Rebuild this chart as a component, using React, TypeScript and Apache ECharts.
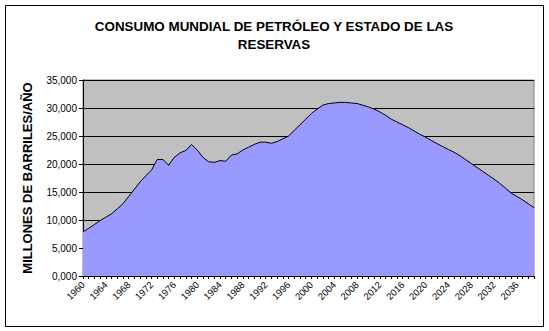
import React, { useEffect, useRef } from "react";
import * as echarts from "echarts";

const years: string[] = [];
for (let y = 1960; y <= 2039; y++) years.push(String(y));

const consumption: number[] = [
  7900, 8500, 9200, 9900, 10500, 11100, 12000, 12900, 14200, 15500,
  16800, 17900, 18900, 20800, 20800, 19800, 21200, 22000, 22400, 23500,
  22500, 21200, 20400, 20300, 20600, 20500, 21600, 21800, 22500, 23000,
  23500, 23900, 23900, 23700, 24000, 24500, 25000, 26000, 27000, 28000,
  29000, 29800, 30500, 30800, 30900, 31000, 31000, 30900, 30800, 30500,
  30200, 29800, 29300, 28700, 28000, 27500, 27000, 26500, 25900, 25300,
  24800, 24200, 23650, 23100, 22600, 22100, 21500, 20800, 20100, 19400,
  18700, 18000, 17300, 16550, 15700, 14800, 14200, 13600, 12900, 12200,
];

const titleText = "CONSUMO MUNDIAL DE PETRÓLEO Y ESTADO DE LAS\nRESERVAS";
const yAxisTitle = "MILLONES DE BARRILES/AÑO";

const FONT = "'Liberation Sans', Arial, sans-serif";

export default function App() {
  const ref = useRef<HTMLDivElement>(null);
  useEffect(() => {
    document.body.style.margin = "0";
    if (!ref.current) return;
    const chart = echarts.init(ref.current, undefined, { renderer: "svg" });
    chart.setOption({
      animation: false,
      backgroundColor: "#ffffff",
      title: {
        text: titleText,
        left: 269,
        textAlign: "center",
        top: 12,
        textStyle: {
          fontFamily: FONT,
          fontSize: 13.4,
          fontWeight: "bold",
          color: "#000",
          lineHeight: 18,
        },
      },
      graphic: [
        {
          type: "rect",
          shape: { x: 5.5, y: 5.5, width: 538, height: 321 },
          style: { fill: "none", stroke: "#000", lineWidth: 1 },
          z: 100,
        },
      ],
      grid: {
        left: 83,
        right: 15,
        top: 80,
        bottom: 55,
        show: true,
        backgroundColor: "#C0C0C0",
        borderColor: "#808080",
        borderWidth: 1,
      },
      xAxis: {
        type: "category",
        data: years,
        boundaryGap: false,
        axisLine: { show: true, lineStyle: { color: "#000", width: 1 } },
        axisTick: {
          show: true,
          interval: 0,
          length: 3,
          lineStyle: { color: "#000" },
        },
        axisLabel: {
          interval: 3,
          rotate: 45,
          margin: 7,
          fontFamily: FONT,
          fontSize: 9.5,
          color: "#000",
        },
        splitLine: { show: false },
      },
      yAxis: {
        type: "value",
        min: 0,
        max: 35000,
        interval: 5000,
        name: yAxisTitle,
        nameLocation: "middle",
        nameGap: 49,
        nameTextStyle: {
          fontFamily: FONT,
          fontSize: 13,
          fontWeight: "bold",
          color: "#000",
        },
        axisLine: { show: true, lineStyle: { color: "#000", width: 1 } },
        axisTick: { show: true, length: 4, lineStyle: { color: "#000" } },
        axisLabel: {
          fontFamily: FONT,
          fontSize: 10,
          color: "#000",
          margin: 6,
          formatter: (v: number) => (v / 1000).toFixed(3).replace(".", ","),
        },
        splitLine: { show: true, lineStyle: { color: "#000", width: 1 } },
      },
      series: [
        {
          type: "line",
          data: consumption,
          symbol: "none",
          lineStyle: { color: "#000", width: 1 },
          areaStyle: { color: "#9999FF", opacity: 1 },
          z: 3,
        },
      ],
    });
    return () => chart.dispose();
  }, []);
  return <div ref={ref} style={{ width: 549, height: 331 }} />;
}
